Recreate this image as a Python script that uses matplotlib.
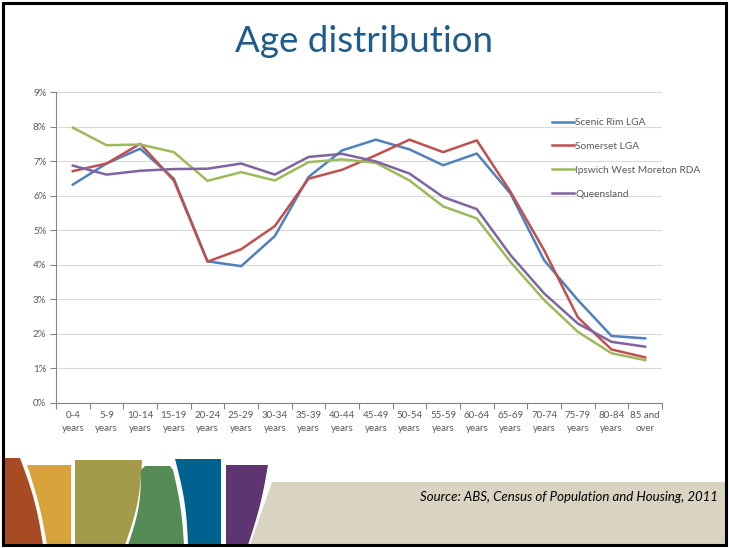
import numpy as np
import matplotlib
matplotlib.use('Agg')
import matplotlib.pyplot as plt
from matplotlib.patches import Polygon, Rectangle

# Данные (доли населения, %)
age_groups = ['0-4\nyears', '5-9\nyears', '10-14\nyears', '15-19\nyears', '20-24\nyears',
              '25-29\nyears', '30-34\nyears', '35-39\nyears', '40-44\nyears', '45-49\nyears',
              '50-54\nyears', '55-59\nyears', '60-64\nyears', '65-69\nyears', '70-74\nyears',
              '75-79\nyears', '80-84\nyears', '85 and\nover']
scenic_rim = [6.32, 6.93, 7.36, 6.49, 4.10, 3.96, 4.83, 6.54, 7.31, 7.62,
              7.34, 6.88, 7.22, 6.06, 4.13, 2.98, 1.94, 1.87]
somerset = [6.71, 6.93, 7.50, 6.44, 4.09, 4.45, 5.12, 6.49, 6.75, 7.17,
            7.62, 7.26, 7.60, 6.11, 4.42, 2.48, 1.55, 1.32]
ipswich = [7.97, 7.46, 7.48, 7.26, 6.43, 6.68, 6.44, 6.97, 7.05, 6.95,
           6.44, 5.69, 5.34, 4.08, 2.98, 2.06, 1.44, 1.24]
queensland = [6.87, 6.61, 6.72, 6.77, 6.78, 6.93, 6.61, 7.12, 7.21, 6.99,
              6.64, 5.96, 5.61, 4.28, 3.17, 2.30, 1.77, 1.63]
series_names = ['Scenic Rim LGA', 'Somerset LGA', 'Ipswich West Moreton RDA', 'Queensland']
y_ticks = list(range(0, 10))

W, H = 729, 548
fig = plt.figure(figsize=(W / 100, H / 100), dpi=100)
FONT = 'Lato'
GREY = '#595959'


def px(x, y):
    """пиксели (от верхнего левого угла) -> доли фигуры"""
    return (x / W, 1 - y / H)


def shape(pts, color):
    fig.patches.append(Polygon([px(x, y) for x, y in pts], closed=True,
                               transform=fig.transFigure, facecolor=color,
                               edgecolor='none', zorder=1))


def curve(p0, p1, bulge, n=12):
    # кривая между двумя точками с небольшим прогибом по x
    t = np.linspace(0, 1, n)
    xs = p0[0] + (p1[0] - p0[0]) * t + bulge * np.sin(np.pi * t)
    ys = p0[1] + (p1[1] - p0[1]) * t
    return list(zip(xs, ys))


# Нижний декор слайда
shape([(272, 482), (726, 482), (726, 545), (250, 545)], '#D9D3C1')
shape([(3, 458), (20, 458)] + curve((20, 458), (43, 545), 3) + [(3, 545)], '#A64B22')
shape([(27, 465), (71, 465), (71, 545)] + curve((47, 545), (27, 465), 2), '#D8A33A')
shape([(75, 460), (142, 460)] + curve((142, 460), (125, 545), 4) + [(75, 545)], '#A39A4A')
shape(curve((128, 545), (141, 470), 4) + [(145, 466), (170, 466)]
      + curve((173, 470), (184, 545), 2), '#558B55')
shape([(175, 459), (221, 459), (221, 545)] + curve((188, 545), (175, 459), 3), '#00628F')
shape([(226, 465), (268, 465)] + curve((268, 465), (248, 545), 2) + [(226, 545)], '#5E3570')

# Рамка слайда
fig.patches.append(Rectangle(px(3, 545), 723 / W, 542 / H, transform=fig.transFigure,
                             facecolor='none', edgecolor='black', linewidth=2.2, zorder=5))

# Заголовок и подпись источника
fig.text(364 / W, 1 - 41 / H, 'Age distribution', ha='center', va='center',
         fontsize=26.5, color='#1F5C8B', family=FONT)
fig.text(718 / W, 1 - 497 / H, 'Source: ABS, Census of Population and Housing, 2011',
         ha='right', va='center', fontsize=9.5, style='italic', color='black', family=FONT)

# График
ax = fig.add_axes([56 / W, 1 - 403 / H, (662 - 56) / W, (403 - 92) / H])
colors = ['#4F81BD', '#C0504D', '#9BBB59', '#8064A2']
x = np.arange(len(age_groups))
for vals, name, c in zip([scenic_rim, somerset, ipswich, queensland], series_names, colors):
    ax.plot(x, vals, color=c, linewidth=1.8, label=name, solid_joinstyle='round')

ax.set_xlim(-0.5, len(age_groups) - 0.5)
ax.set_ylim(0, 9)
ax.set_yticks(y_ticks)
ax.set_yticklabels([f'{v}%' for v in y_ticks], fontsize=7, color=GREY, family=FONT)
ax.set_xticks(np.arange(-0.5, len(age_groups)), minor=False)
ax.set_xticklabels([])
ax.set_xticks(x, minor=True)
ax.set_xticklabels(age_groups, minor=True, fontsize=7, color=GREY, family=FONT,
                   linespacing=1.5)
ax.tick_params(axis='x', which='major', length=4, color='#868686', direction='out')
ax.tick_params(axis='x', which='minor', length=0, pad=6)
ax.tick_params(axis='y', length=4, color='#868686', direction='out', pad=3)
ax.grid(axis='y', color='#D9D9D9', linewidth=0.8)
ax.set_axisbelow(True)
for s in ['top', 'right']:
    ax.spines[s].set_visible(False)
for s in ['left', 'bottom']:
    ax.spines[s].set_color('#868686')
    ax.spines[s].set_linewidth(0.8)

leg = ax.legend(loc='upper left', bbox_to_anchor=(543 / W, 1 - 109 / H),
                bbox_transform=fig.transFigure, frameon=False, handlelength=2.2,
                handletextpad=0.1, labelspacing=1.45, prop={'family': FONT, 'size': 7.3})
for t in leg.get_texts():
    t.set_color(GREY)

plt.savefig('out.png', dpi=100)
plt.close()
